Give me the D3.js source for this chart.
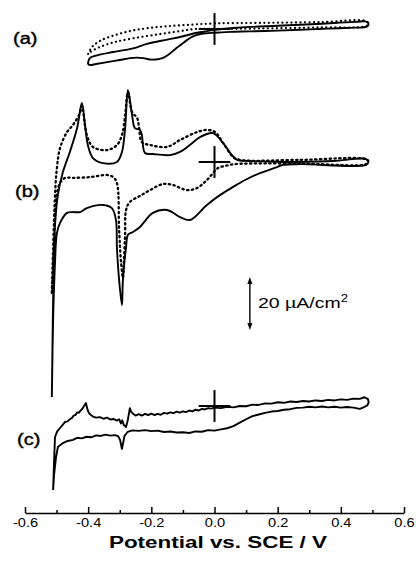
<!DOCTYPE html>
<html><head><meta charset="utf-8">
<script src="https://cdn.jsdelivr.net/npm/d3@7"></script>
<style>body{margin:0;background:#fff}svg{display:block}</style>
</head><body><svg id="chart" width="416" height="567"></svg>
<script>
// ---- data: potential (V vs. SCE), current density (µA/cm²) ----
const potentialTicks = [-0.6, -0.4, -0.2, 0.0, 0.2, 0.4, 0.6];
const potentialTickLabels = ["-0.6", "-0.4", "-0.2", "0.0", "0.2", "0.4", "0.6"];
const minorTicks = [-0.5, -0.3, -0.1, 0.1, 0.3, 0.5];
const panelLabels = ["(a)", "(b)", "(c)"];
const scaleBarValue = 20;
const scaleBarLabel = "20 µA/cm";
const xTitle = "Potential vs. SCE / V";

const aSolid = [
  [-0.400,-12.5],[-0.394,-10.9],[-0.360,-9.6],[-0.321,-8.7],[-0.258,-7.3],[-0.214,-5.6],[-0.150,-4.0],
  [-0.109,-3.0],[-0.055,-1.4],[-0.024,-0.8],[0.000,-0.3],[0.060,0.4],[0.112,0.8],[0.200,1.2],[0.271,1.6],
  [0.340,2.0],[0.397,2.4],[0.450,2.7],[0.477,2.9],[0.487,2.2],[0.483,0.9],
  [0.440,0.5],[0.397,0.3],[0.330,0.0],[0.271,-0.3],[0.200,-0.6],[0.112,-0.9],[0.050,-1.1],[0.000,-1.4],
  [-0.040,-1.8],[-0.068,-2.8],[-0.085,-4.0],[-0.105,-5.8],[-0.125,-7.6],[-0.145,-9.6],[-0.165,-11.0],
  [-0.185,-11.5],[-0.205,-11.5],[-0.225,-11.0],[-0.245,-10.8],[-0.268,-11.0],[-0.300,-11.7],[-0.340,-12.5],
  [-0.375,-13.2],[-0.394,-13.6],[-0.400,-13.2],[-0.400,-12.5]
];
const aDotted = [
  [-0.400,-9.4],[-0.388,-6.8],[-0.363,-4.5],[-0.315,-2.3],[-0.252,-0.4],[-0.173,0.8],[-0.093,1.5],
  [0.000,2.1],[0.144,2.3],[0.334,2.6],[0.480,3.0],[0.487,2.0],[0.480,1.1],[0.334,0.6],[0.144,0.2],
  [0.000,0.0],[-0.062,0.0],[-0.109,-0.8],[-0.173,-1.9],[-0.252,-3.4],[-0.315,-4.9],[-0.363,-6.8],
  [-0.394,-8.7],[-0.400,-9.4]
];
const bSolid = [
  [-0.515,-88.7],[-0.511,-52.1],[-0.508,-33.2],[-0.505,-23.8],[-0.496,-12.5],[-0.480,-3.8],[-0.458,3.8],
  [-0.435,12.8],[-0.420,22.3],[-0.410,14.0],[-0.401,6.4],[-0.385,1.5],[-0.353,-0.4],[-0.309,0.0],
  [-0.293,3.8],[-0.283,12.8],[-0.274,27.2],[-0.261,17.7],[-0.252,12.8],[-0.236,12.1],[-0.230,10.2],
  [-0.220,3.4],[-0.195,3.0],[-0.141,2.6],[-0.109,3.8],[-0.078,6.4],[-0.046,9.4],[-0.005,10.9],
  [0.027,7.2],[0.055,2.6],[0.071,0.8],[0.112,0.4],[0.217,0.0],[0.375,0.4],[0.480,1.1],[0.487,0.0],
  [0.480,-1.1],[0.271,-0.8],[0.217,-1.1],[0.198,-1.9],[0.144,-4.2],[0.097,-6.8],[0.059,-9.4],
  [0.017,-12.5],[-0.024,-16.2],[-0.078,-21.9],[-0.109,-20.8],[-0.150,-18.1],[-0.195,-19.2],
  [-0.236,-24.5],[-0.258,-26.4],[-0.274,-27.5],[-0.280,-32.1],[-0.290,-44.5],[-0.293,-54.0],
  [-0.302,-44.5],[-0.309,-32.1],[-0.312,-21.9],[-0.325,-17.4],[-0.353,-16.2],[-0.404,-17.4],
  [-0.426,-18.9],[-0.448,-18.9],[-0.467,-19.2],[-0.489,-23.0],[-0.499,-26.8],[-0.505,-38.1],
  [-0.511,-59.6],[-0.515,-88.7]
];
const bDashed = [
  [-0.515,-49.4],[-0.505,-12.5],[-0.499,-2.3],[-0.489,5.3],[-0.467,11.3],[-0.448,14.0],[-0.426,18.5],
  [-0.420,21.1],[-0.404,10.2],[-0.385,5.7],[-0.340,4.5],[-0.309,6.4],[-0.293,10.2],[-0.283,17.7],
  [-0.274,26.4],[-0.261,18.9],[-0.245,16.6],[-0.239,13.2],[-0.230,7.5],[-0.204,6.4],[-0.150,5.7],
  [-0.109,8.3],[-0.055,11.3],[-0.024,12.1],[0.002,11.3],[0.027,7.2],[0.059,1.9],[0.081,0.8],
  [0.271,0.8],[0.480,1.1],[0.487,0.2],[0.480,-0.8],[0.271,-0.6],[0.065,-0.8],[0.033,-1.5],[0.011,-2.3],
  [-0.024,-6.8],[-0.055,-9.8],[-0.087,-10.6],[-0.131,-8.7],[-0.163,-8.3],[-0.204,-10.6],[-0.236,-12.8],
  [-0.268,-15.1],[-0.280,-18.1],[-0.283,-27.5],[-0.287,-37.7],[-0.290,-43.8],[-0.296,-37.7],
  [-0.302,-25.7],[-0.309,-7.9],[-0.321,-5.7],[-0.340,-4.9],[-0.394,-5.7],[-0.448,-6.0],[-0.473,-6.0],
  [-0.489,-7.9],[-0.499,-12.5],[-0.508,-29.4],[-0.515,-49.4]
];
const cSolid = [
  [-0.511,-31.7],[-0.508,-21.1],[-0.505,-11.7],[-0.498,-9.6],[-0.489,-8.3],[-0.480,-7.0],[-0.473,-6.0],
  [-0.465,-5.8],[-0.458,-5.0],[-0.452,-4.6],[-0.446,-3.6],[-0.440,-3.4],[-0.435,-2.4],[-0.430,-2.6],
  [-0.426,-2.0],[-0.420,-1.3],[-0.413,0.0],[-0.407,1.1],[-0.403,-1.0],[-0.398,-2.6],[-0.391,-3.4],
  [-0.385,-4.0],[-0.375,-4.4],[-0.363,-4.2],[-0.352,-4.8],[-0.340,-4.4],[-0.330,-5.1],[-0.320,-4.9],
  [-0.309,-5.5],[-0.302,-5.0],[-0.296,-6.6],[-0.292,-5.4],[-0.287,-7.2],[-0.280,-7.9],[-0.274,-5.0],
  [-0.268,-0.8],[-0.264,-2.2],[-0.258,-2.9],[-0.250,-3.6],[-0.240,-3.1],[-0.230,-3.6],[-0.220,-3.0],
  [-0.210,-3.4],[-0.200,-2.9],[-0.190,-3.4],[-0.180,-3.0],[-0.170,-3.3],[-0.160,-2.6],[-0.150,-2.9],
  [-0.140,-2.4],[-0.130,-2.7],[-0.120,-2.1],[-0.110,-2.5],[-0.100,-2.0],[-0.090,-2.3],[-0.080,-1.7],
  [-0.070,-2.0],[-0.060,-1.4],[-0.050,-1.7],[-0.040,-1.1],[-0.030,-1.3],[-0.020,-0.8],[-0.010,-1.0],
  [0.000,-0.6],[0.020,-0.8],[0.040,-0.3],[0.060,-0.5],[0.080,0.0],[0.100,-0.1],[0.120,0.5],[0.140,0.4],
  [0.160,1.0],[0.180,0.9],[0.200,1.4],[0.220,1.2],[0.240,1.7],[0.260,1.5],[0.280,1.9],[0.300,1.7],
  [0.320,2.1],[0.340,1.9],[0.360,2.3],[0.380,2.1],[0.400,2.5],[0.420,2.3],[0.440,2.8],[0.460,2.7],
  [0.475,3.3],[0.486,2.6],[0.488,1.4],
  [0.484,0.2],[0.470,-0.6],[0.460,-1.1],[0.440,-0.6],[0.420,-0.4],[0.400,-0.6],[0.380,-0.3],[0.360,-0.5],
  [0.340,-0.2],[0.320,-0.5],[0.300,-0.3],[0.280,-0.6],[0.260,-0.7],[0.240,-1.2],[0.220,-1.4],[0.200,-1.9],
  [0.180,-2.1],[0.160,-2.6],[0.140,-3.2],[0.120,-3.8],[0.100,-5.0],[0.080,-6.3],[0.060,-7.6],[0.040,-8.4],
  [0.020,-8.8],[0.000,-9.3],[-0.020,-9.1],[-0.040,-9.7],[-0.060,-9.6],[-0.080,-10.2],[-0.100,-9.9],
  [-0.120,-10.0],[-0.140,-9.6],[-0.160,-9.8],[-0.180,-9.3],[-0.200,-9.5],[-0.220,-9.1],[-0.240,-9.4],
  [-0.260,-9.2],[-0.275,-9.8],[-0.285,-11.3],[-0.293,-16.2],[-0.299,-12.8],[-0.305,-11.4],[-0.315,-11.0],
  [-0.330,-11.2],[-0.345,-10.8],[-0.360,-11.3],[-0.375,-11.1],[-0.390,-11.8],[-0.405,-11.6],[-0.420,-12.2],
  [-0.435,-12.0],[-0.448,-12.8],[-0.465,-13.2],[-0.480,-14.0],[-0.496,-15.5],[-0.502,-19.6],[-0.508,-26.0],
  [-0.511,-31.7]
];

// ---- layout ----
const svg = d3.select("#chart");
const FONT = "'Liberation Sans', Arial, Helvetica, sans-serif";
const x = d3.scaleLinear().domain([-0.6, 0.6]).range([25, 404]);
const PX_PER_UNIT = 2.65;
const mkY = y0 => d3.scaleLinear().domain([0, 20]).range([y0, y0 - 20 * PX_PER_UNIT]);
const panels = [
  {label: panelLabels[0], y: mkY(29), lab: [13, 44],
   series: [{d: aSolid, dash: null, curve: true},
            {d: aDotted, dash: "0.1,4.4", cap: "round", w: 2.2, curve: true}]},
  {label: panelLabels[1], y: mkY(162), lab: [15, 197],
   series: [{d: bSolid, dash: null, curve: true},
            {d: bDashed, dash: "1.4,3.4", cap: "round", w: 2.3, curve: true}]},
  {label: panelLabels[2], y: mkY(406), lab: [17, 445],
   series: [{d: cSolid, dash: null, curve: false}]}
];

panels.forEach(p => {
  const g = svg.append("g");
  p.series.forEach(s => {
    const line = d3.line().x(d => x(d[0])).y(d => p.y(d[1]))
      .curve(s.curve ? d3.curveCatmullRom.alpha(0.5) : d3.curveLinear);
    g.append("path").attr("d", line(s.d)).attr("fill", "none").attr("stroke", "#000")
      .attr("stroke-width", s.w || 1.9).attr("stroke-linejoin", "round")
      .attr("stroke-linecap", s.cap || "butt")
      .attr("stroke-dasharray", s.dash);
  });
  // zero-current crosshair at 0 V
  g.append("line").attr("x1", x(-0.05)).attr("x2", x(0.05)).attr("y1", p.y(0)).attr("y2", p.y(0))
    .attr("stroke", "#000").attr("stroke-width", 2);
  g.append("line").attr("x1", x(0)).attr("x2", x(0)).attr("y1", p.y(-6)).attr("y2", p.y(6))
    .attr("stroke", "#000").attr("stroke-width", 2);
  svg.append("text").text(p.label)
    .attr("transform", `translate(${p.lab[0]},${p.lab[1]}) scale(1.25,1)`)
    .attr("font-family", FONT).attr("font-size", 16).attr("stroke", "#000").attr("stroke-width", 0.4);
});

// scale bar
const barX = x(0.112), barTop = 277;
const barLen = panels[1].y(0) - panels[1].y(scaleBarValue);
svg.append("line").attr("x1", barX).attr("x2", barX).attr("y1", barTop + 4).attr("y2", barTop + barLen - 4)
  .attr("stroke", "#000").attr("stroke-width", 1.4);
svg.append("path").attr("d", `M${barX},${barTop} l-2.5,7 l5,0 z`).attr("fill", "#000");
svg.append("path").attr("d", `M${barX},${barTop + barLen} l-2.5,-7 l5,0 z`).attr("fill", "#000");
const sb = svg.append("text").attr("transform", `translate(258,308) scale(1.3,1)`)
  .attr("font-family", FONT).attr("font-size", 15);
sb.append("tspan").text(scaleBarLabel);
sb.append("tspan").text("2").attr("font-size", 10).attr("dy", -6);

// x axis
const axisY = 513;
const ax = svg.append("g").attr("transform", `translate(0,${axisY})`)
  .call(d3.axisBottom(x).tickValues(potentialTicks).tickSize(-6).tickSizeOuter(0).tickPadding(5)
    .tickFormat((d, i) => potentialTickLabels[i]));
const axm = svg.append("g").attr("transform", `translate(0,${axisY})`)
  .call(d3.axisBottom(x).tickValues(minorTicks).tickSize(-3).tickSizeOuter(0).tickFormat(""));
[ax, axm].forEach(g => {
  g.selectAll("path,line").attr("stroke", "#000").attr("stroke-width", 1.5);
});
axm.select(".domain").remove();
ax.selectAll("text").attr("font-family", FONT).attr("font-size", 12).attr("fill", "#000")
  .attr("transform", "scale(1.22,1)");

svg.append("text").text(xTitle).attr("text-anchor", "middle")
  .attr("transform", `translate(218,548) scale(1.32,1)`)
  .attr("font-family", FONT).attr("font-size", 17).attr("font-weight", "bold");
</script>
</body></html>
